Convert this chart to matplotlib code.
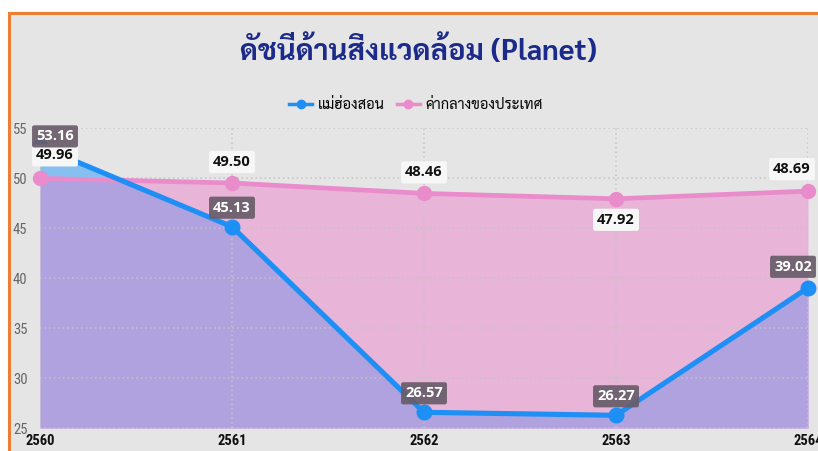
import numpy as np
import matplotlib
matplotlib.use('Agg')
import matplotlib.pyplot as plt
from matplotlib import font_manager
from matplotlib.lines import Line2D
from matplotlib.patches import Rectangle

# ข้อมูล
ปี = [2560, 2561, 2562, 2563, 2564]
แม่ฮ่องสอน = [53.16, 45.13, 26.57, 26.27, 39.02]
ค่ากลาง = [49.96, 49.50, 48.46, 47.92, 48.69]
ชื่อชุด = ['แม่ฮ่องสอน', 'ค่ากลางของประเทศ']
ชื่อกราฟ = 'ดัชนีด้านสิ่งแวดล้อม (Planet)'

# ฟอนต์ที่มีในเครื่อง
ชื่อฟอนต์ = {f.name for f in font_manager.fontManager.ttflist}
def เลือก(*names):
    for n in names:
        if n in ชื่อฟอนต์:
            return n
    return 'DejaVu Sans'

ฟอนต์ไทย = เลือก('Sarabun', 'Noto Sans Thai', 'Kanit', 'Prompt')
ฟอนต์แคบ = เลือก('Roboto Condensed', 'Barlow Condensed', 'Open Sans Condensed', 'Noto Sans Display', 'Roboto')
ฟอนต์ตัวเลข = เลือก('Open Sans', 'Noto Sans', 'DejaVu Sans')

W, H = 818, 451
fig = plt.figure(figsize=(W / 100, H / 100), dpi=100)
fig.patch.set_facecolor('white')

# พื้นหลังเทาพร้อมกรอบส้ม
fig.patches.append(Rectangle((8.5 / W, -0.1), 1.2, 1.1 - 12.5 / H, transform=fig.transFigure,
                             facecolor='#e5e5e5', edgecolor='#ed7d31', lw=2.2, zorder=-5))

ax = fig.add_axes([40 / W, 1 - 428 / H, 768 / W, 300 / H])
ax.set_facecolor('none')
for s in ax.spines.values():
    s.set_visible(False)

x = np.array(ปี)
b = np.array(แม่ฮ่องสอน)
p = np.array(ค่ากลาง)

ax.fill_between(x, 25, p, color='#e8b4d8', lw=0, zorder=1)
ax.fill_between(x, 25, b, color='#b0a2de', lw=0, zorder=1.1)
ax.fill_between(x, p, b, where=b > p, interpolate=True, color='#86bff0', lw=0, zorder=1.2)

ax.plot(x, p, color='#ea8ccb', lw=3.4, marker='o', ms=10, zorder=3, clip_on=False)
ax.plot(x, b, color='#1e8ff5', lw=3.7, marker='o', ms=10.5, zorder=4, clip_on=False)

ax.set_xlim(2560, 2564)
ax.set_ylim(25, 55)
ax.set_xticks(ปี)
ax.set_yticks(range(25, 56, 5))
ax.grid(True, color='#c4c4c4', ls=(0, (1, 2)), lw=1.1, zorder=2)
ax.set_axisbelow(False)
ax.tick_params(length=0)
ax.tick_params(axis='y', pad=9, labelsize=10.5, labelcolor='#666666')
ax.tick_params(axis='x', pad=4, labelsize=10.5, labelcolor='#111111')
for t in ax.get_yticklabels():
    t.set_fontfamily(ฟอนต์แคบ)
for t in ax.get_xticklabels():
    t.set_fontfamily(ฟอนต์แคบ)
    t.set_fontweight('bold')

# ป้ายตัวเลข (ระยะเลื่อนเป็นพิกเซล)
เลื่อน_ฟ้า = [(15, 10), (0, 19), (0, 19), (0, 19), (-15, 21)]
เลื่อน_ชมพู = [(15, 23), (0, 21), (0, 21), (0, -21), (-16, 22)]
for xi, v, (dx, dy) in zip(x, b, เลื่อน_ฟ้า):
    ax.annotate(f'{v:.2f}', (xi, v), xytext=(dx * 0.72, dy * 0.72), textcoords='offset points',
                ha='center', va='center', fontsize=10.5, fontweight='bold', color='white',
                family=ฟอนต์ตัวเลข, zorder=6, annotation_clip=False,
                bbox=dict(boxstyle='round,pad=0.28,rounding_size=0.15', fc='#685c69', ec='none', alpha=0.92))
for xi, v, (dx, dy) in zip(x, p, เลื่อน_ชมพู):
    ax.annotate(f'{v:.2f}', (xi, v), xytext=(dx * 0.72, dy * 0.72), textcoords='offset points',
                ha='center', va='center', fontsize=10.5, fontweight='bold', color='#111111',
                family=ฟอนต์ตัวเลข, zorder=5, annotation_clip=False,
                bbox=dict(boxstyle='round,pad=0.28,rounding_size=0.15', fc='#f7f7f7', ec='none'))

fig.text(418 / W, 1 - 52 / H, ชื่อกราฟ, ha='center', va='center', fontsize=21,
         fontweight='bold', color='#1c2a8a', family=[ฟอนต์ไทย, 'DejaVu Sans'])

ตัวจับ = [Line2D([], [], color='#1e8ff5', lw=2.5, marker='o', ms=6),
          Line2D([], [], color='#ea8ccb', lw=2.5, marker='o', ms=6)]
fig.legend(ตัวจับ, ชื่อชุด, loc='center', bbox_to_anchor=(416 / W, 1 - 105 / H), ncol=2,
           frameon=False, handlelength=1.6, handletextpad=0.4, columnspacing=0.8,
           prop={'family': [ฟอนต์ไทย, 'DejaVu Sans'], 'size': 10.5})

fig.savefig('out.png', dpi=100, facecolor=fig.get_facecolor())
